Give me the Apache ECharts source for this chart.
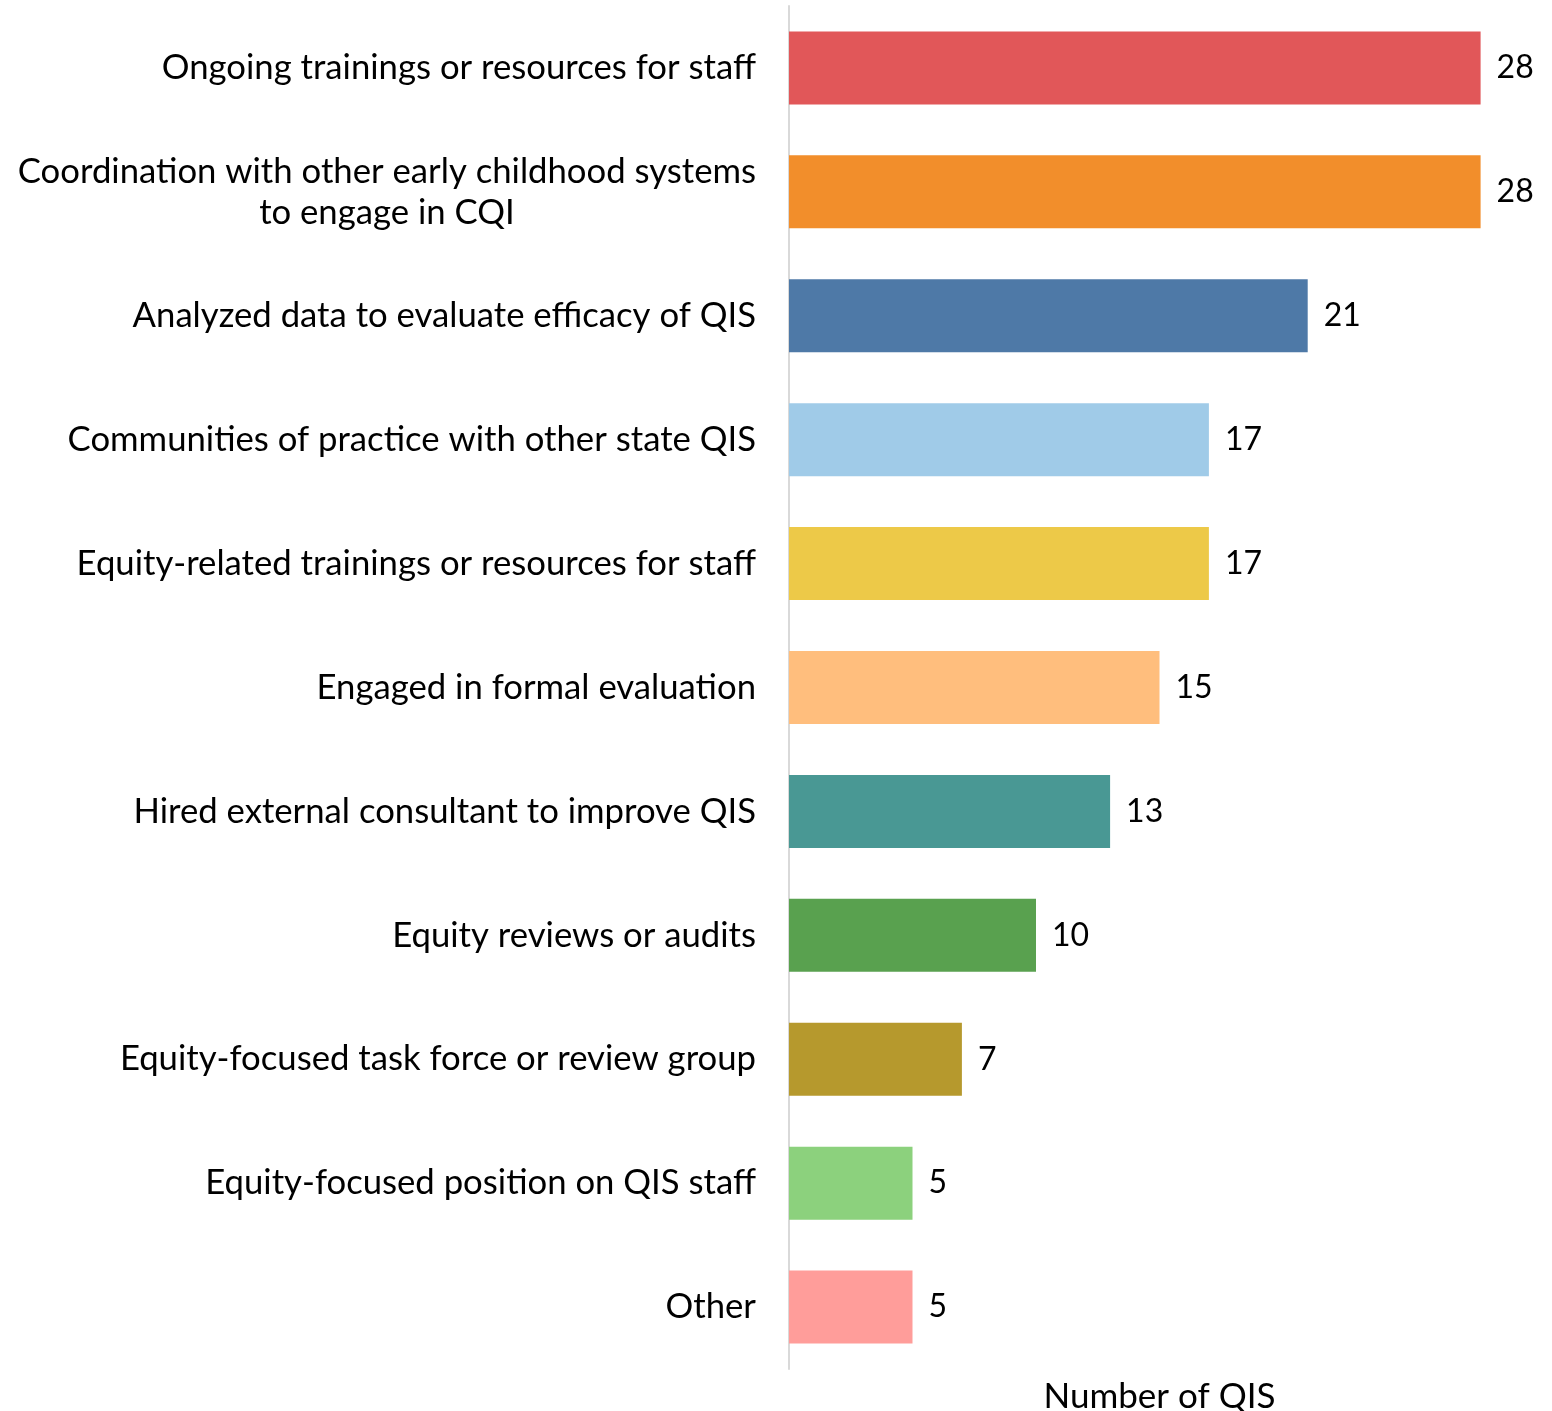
<!DOCTYPE html>
<html>
<head>
<meta charset="utf-8">
<script src="https://cdn.jsdelivr.net/npm/echarts@6/dist/echarts.min.js"></script>
<style>
html,body{margin:0;padding:0;background:#fff;}
#main{width:1552px;height:1411px;}
</style>
</head>
<body>
<div id="main"></div>
<script>
const categories = [
  "Ongoing trainings or resources for staff",
  "Coordination with other early childhood systems\nto engage in CQI",
  "Analyzed data to evaluate efficacy of QIS",
  "Communities of practice with other state QIS",
  "Equity-related trainings or resources for staff",
  "Engaged in formal evaluation",
  "Hired external consultant to improve QIS",
  "Equity reviews or audits",
  "Equity-focused task force or review group",
  "Equity-focused position on QIS staff",
  "Other"
];
const values = [28, 28, 21, 17, 17, 15, 13, 10, 7, 5, 5];
const barColors = ["#E15759", "#F28E2B", "#4E79A7", "#A0CBE8", "#EDC948", "#FFBE7D", "#499894", "#59A14F", "#B6992D", "#8CD17D", "#FF9D9A"];
const axisName = "Number of QIS";

const chart = echarts.init(document.getElementById('main'), null, {renderer: 'canvas'});
const font = 'Lato, "Noto Sans", sans-serif';
chart.setOption({
  animation: false,
  grid: {left: 789, right: 22, top: 6, bottom: 42, containLabel: false, outerBoundsMode: 'none'},
  xAxis: {
    type: 'value', min: 0, max: 30,
    axisLine: {show: false}, axisTick: {show: false}, axisLabel: {show: false},
    splitLine: {show: false},
    name: axisName, nameLocation: 'middle', nameGap: 10,
    nameTextStyle: {fontFamily: font, fontSize: 35, color: '#000'}
  },
  yAxis: {
    type: 'category', data: categories, inverse: true,
    axisLine: {show: true, lineStyle: {color: '#d9d9d9', width: 2}},
    axisTick: {show: false},
    axisLabel: {
      margin: 33, align: 'right',
      formatter: function (v) {
        return v.split('\n').map(s => '{c|' + s + '}').join('\n');
      },
      rich: {c: {fontFamily: font, fontSize: 34.7, color: '#000', align: 'center', lineHeight: 41}}
    }
  },
  series: [{
    type: 'bar',
    data: values.map((v, i) => ({value: v, itemStyle: {color: barColors[i]}})),
    barWidth: 73,
    label: {show: true, position: 'right', distance: 16, fontFamily: font, fontSize: 32, color: '#000'}
  }]
});
</script>
</body>
</html>
